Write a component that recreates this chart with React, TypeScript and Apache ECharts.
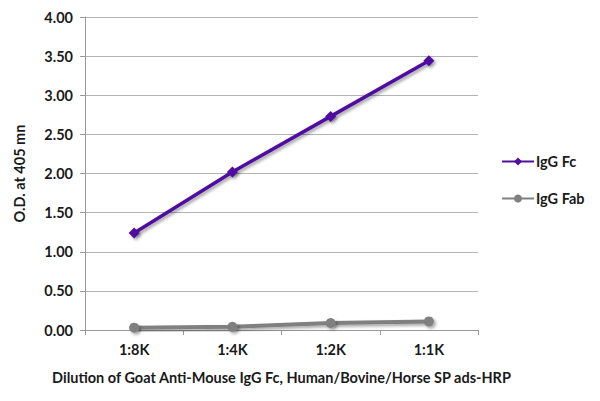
import React, { useEffect, useRef } from "react";
import * as echarts from "echarts";

const categories = ["1:8K", "1:4K", "1:2K", "1:1K"];
const iggFc = [1.24, 2.02, 2.73, 3.44];
const iggFab = [0.03, 0.04, 0.09, 0.11];
const yTicks = [0, 4, 0.5];

const FONT = "Lato";
const FS = 14.5;

export default function App() {
  const ref = useRef<HTMLDivElement>(null);
  useEffect(() => {
    document.body.style.margin = "0";
    const chart = echarts.init(ref.current!, null, { renderer: "svg" });
    const shadow = {
      shadowColor: "rgba(0,0,0,0.35)",
      shadowBlur: 3,
      shadowOffsetX: 2,
      shadowOffsetY: 2,
    };
    const txt = { fontFamily: FONT, fontWeight: "bold", fontSize: FS, color: "#1a1a1a" };
    chart.setOption({
      animation: false,
      backgroundColor: "#ffffff",
      grid: { left: 85, right: 122, top: 17, bottom: 71 },
      legend: {
        orient: "vertical",
        left: 496,
        top: 149,
        itemWidth: 32,
        itemHeight: 10,
        itemGap: 22,
        textStyle: { ...txt, padding: [0, 0, 0, -3] },
        data: ["IgG Fc", "IgG Fab"],
      },
      xAxis: {
        type: "category",
        data: categories,
        boundaryGap: true,
        axisLine: { lineStyle: { color: "#999", width: 1 } },
        axisTick: { show: true, length: 5, lineStyle: { color: "#999" } },
        axisLabel: { ...txt, margin: 12 },
        name: "Dilution of Goat Anti-Mouse IgG Fc, Human/Bovine/Horse SP ads-HRP",
        nameLocation: "middle",
        nameGap: 40,
        nameTextStyle: txt,
      },
      yAxis: {
        type: "value",
        min: yTicks[0],
        max: yTicks[1],
        interval: yTicks[2],
        axisLine: { show: true, lineStyle: { color: "#999", width: 1 } },
        axisTick: { show: true, length: 5, lineStyle: { color: "#999" } },
        splitLine: { lineStyle: { color: "#b3b3b3", width: 1 } },
        axisLabel: {
          ...txt,
          margin: 12,
          formatter: (v: number) => v.toFixed(2),
        },
        name: "O.D. at 405 mn",
        nameLocation: "middle",
        nameGap: 58,
        nameTextStyle: txt,
      },
      series: [
        {
          name: "IgG Fc",
          type: "line",
          data: iggFc,
          symbol: "diamond",
          symbolSize: 11,
          lineStyle: { color: "#5011a0", width: 3.5, ...shadow },
          itemStyle: { color: "#5011a0", ...shadow },
        },
        {
          name: "IgG Fab",
          type: "line",
          data: iggFab,
          symbol: "circle",
          symbolSize: 10,
          lineStyle: { color: "#808080", width: 4, ...shadow },
          itemStyle: { color: "#808080", ...shadow },
        },
      ],
    });
    return () => chart.dispose();
  }, []);
  return <div ref={ref} style={{ width: 600, height: 401 }} />;
}
